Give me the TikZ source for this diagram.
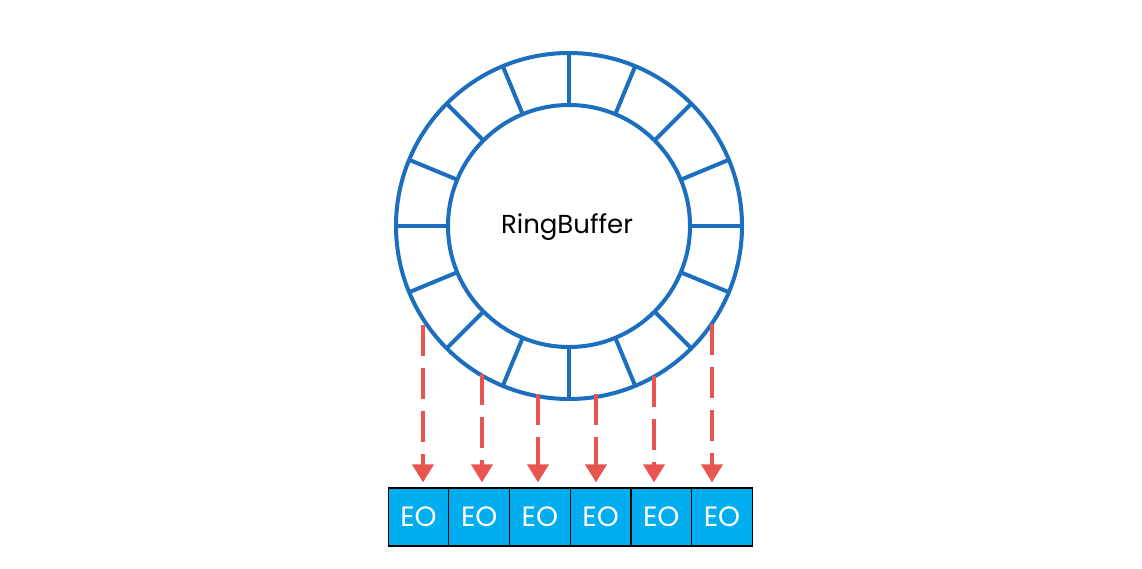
\documentclass[tikz,border=0pt]{standalone}
\usepackage{fontspec}
\setmainfont{Poppins}
\usetikzlibrary{arrows.meta,calc}
\definecolor{ringblue}{RGB}{28,110,190}
\definecolor{arrowred}{RGB}{232,84,80}
\definecolor{eocyan}{RGB}{0,174,239}
\tikzset{
  ringline/.style={draw=ringblue, line width=4pt},
  eobox/.style={draw=black, line width=1.2pt, fill=eocyan, minimum width=60.7pt, minimum height=58pt, inner sep=0pt, text=white, font=\fontsize{28}{28}\selectfont},
  feed/.style={draw=arrowred, line width=3.8pt, dash pattern=on 31pt off 12pt, -{Triangle[width=21pt,length=18pt]}},
  title/.style={font=\fontsize{26}{26}\selectfont, text=black}
}
\begin{document}
\begin{tikzpicture}[x=1pt,y=-1pt]
\useasboundingbox (0,0) rectangle (1142,568);
\fill[white] (0,0) rectangle (1142,568);
\coordinate (c) at (569,226);
% ring
\draw[ringline] (c) circle[radius=173];
\draw[ringline] (c) circle[radius=121];
\foreach \a in {0,22.5,...,337.5}
  \draw[ringline] ($(c)+(\a:121)$) -- ($(c)+(\a:173)$);
\node[title] (rb) at (567,227) {RingBuffer};
% boxes
\foreach \i in {1,...,6}
  \node[eobox] (eo\i) at ({418.5+60.7*(\i-1)},517) {EO};
% arrow starts on the ring
\coordinate (s1) at (423,325);
\coordinate (s2) at (482,374);
\coordinate (s3) at (538,394);
\coordinate (s4) at (596,394);
\coordinate (s5) at (654,376);
\coordinate (s6) at (712,324);
\foreach \i in {1,...,6}
  \draw[feed] (s\i) -- ([yshift=5pt]s\i |- eo\i.north);
\end{tikzpicture}
\end{document}
